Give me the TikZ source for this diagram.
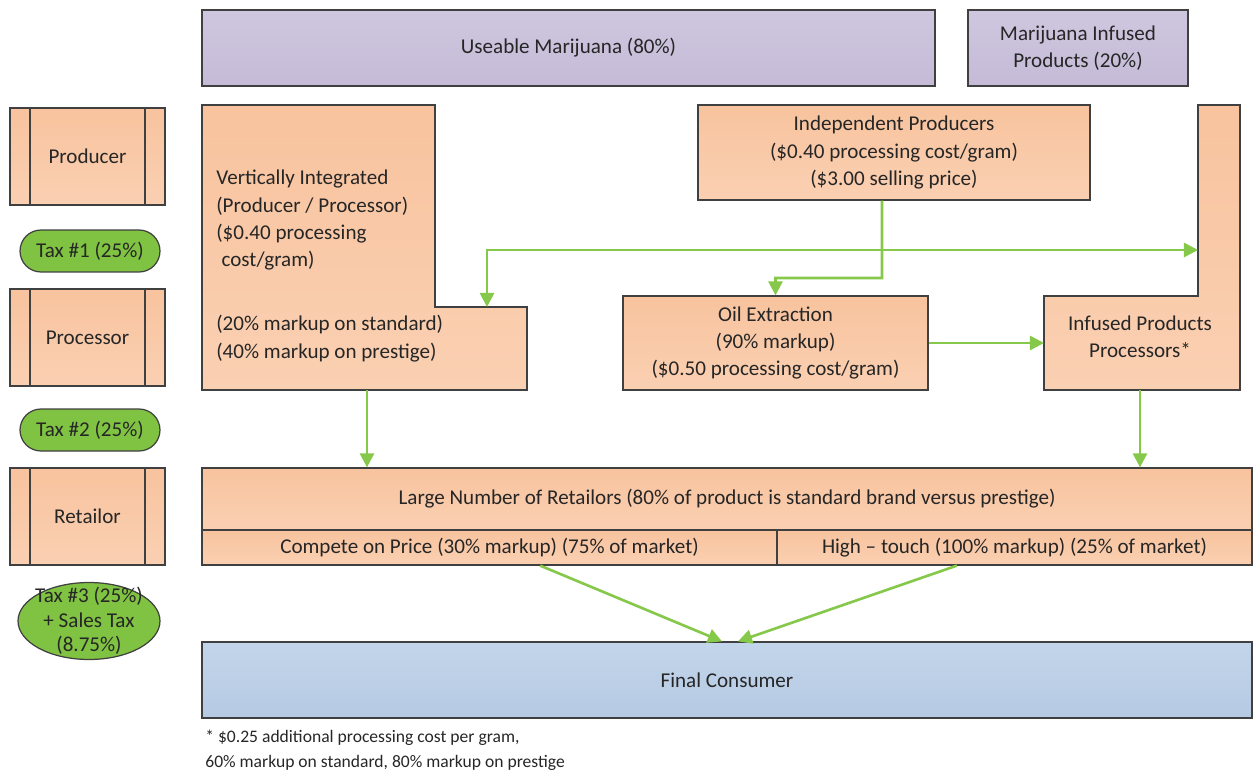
\documentclass[tikz,border=0pt]{standalone}
\usepackage{fontspec}
\setmainfont{Carlito}
\usetikzlibrary{arrows.meta,calc,shapes.geometric}

\definecolor{edge}{HTML}{404040}
\definecolor{ink}{HTML}{262626}
\definecolor{peachtop}{HTML}{F8C39E}
\definecolor{peachbot}{HTML}{FAD0B2}
\definecolor{lilactop}{HTML}{CFC6DF}
\definecolor{lilacbot}{HTML}{C5BBD7}
\definecolor{skytop}{HTML}{C3D5EA}
\definecolor{skybot}{HTML}{B5CAE3}
\definecolor{taxgreen}{HTML}{80C342}
\definecolor{flowgreen}{HTML}{86C84A}

\tikzset{
  lshape/.style={draw=edge, line width=0.7pt, top color=peachtop, bottom color=peachbot},
  box/.style={lshape, align=center, inner sep=0pt},
  topbox/.style={box, top color=lilactop, bottom color=lilacbot},
  finalbox/.style={box, top color=skytop, bottom color=skybot},
  stage/.style={box, minimum width=3.1cm, minimum height=1.94cm,
    path picture={
      \draw[edge, line width=0.7pt] ([xshift=0.4cm]path picture bounding box.north west) -- ([xshift=0.4cm]path picture bounding box.south west);
      \draw[edge, line width=0.7pt] ([xshift=-0.4cm]path picture bounding box.north east) -- ([xshift=-0.4cm]path picture bounding box.south east);
    }},
  tax/.style={draw=edge, line width=0.7pt, fill=taxgreen, align=center, inner sep=0pt,
    minimum width=2.8cm, minimum height=0.84cm, rounded corners=0.42cm},
  flow/.style={draw=flowgreen, line width=1.5pt, -{Triangle[length=8pt,width=8pt]}}
}

\begin{document}
\begin{tikzpicture}[x=0.02cm, y=-0.02cm, font=\fontsize{12}{15.5}\selectfont, text=ink]
\useasboundingbox (0,0) rectangle (1254,774);

% top row
\node[topbox, minimum width=14.66cm, minimum height=1.52cm] (useable) at (568.5,48) {Useable Marijuana (80\%)};
\node[topbox, minimum width=4.4cm, minimum height=1.52cm] (mip) at (1078,48) {Marijuana Infused\\Products (20\%)};

% left column
\node[stage] (producer) at (87.5,156.5) {Producer};
\node[tax] (tax1) at (90,251) {Tax \#1 (25\%)};
\node[stage] (processor) at (87.5,337.5) {Processor};
\node[tax] (tax2) at (90,430) {Tax \#2 (25\%)};
\node[stage] (retailor) at (87.5,516.5) {Retailor};
\node[tax, ellipse, rounded corners=0pt, minimum width=2.84cm, minimum height=1.54cm, inner sep=-12pt, font=\fontsize{12}{14}\selectfont] (tax3) at (89,621) {Tax \#3 (25\%)\\+ Sales Tax\\(8.75\%)};

% vertically integrated
\draw[lshape] (202,105) -- (435,105) -- (435,307) -- (527,307) -- (527,390) -- (202,390) -- cycle;
\node[anchor=north west, align=left, inner sep=0pt] (vi) at (216,170) {Vertically Integrated\\(Producer / Processor)\\(\$0.40 processing\\\hspace{3pt}cost/gram)\\[21pt](20\% markup on standard)\\(40\% markup on prestige)};
\coordinate (vi-step) at (487,307);
\coordinate (vi-s) at (367,390);

% independent producers and oil
\node[box, minimum width=7.84cm, minimum height=1.9cm] (indep) at (894,152.5) {Independent Producers\\(\$0.40 processing cost/gram)\\(\$3.00 selling price)};
\node[box, minimum width=6.1cm, minimum height=1.88cm] (oil) at (775.5,343) {Oil Extraction\\(90\% markup)\\(\$0.50 processing cost/gram)};

% infused products processors
\draw[lshape] (1198,105) -- (1240,105) -- (1240,390) -- (1044,390) -- (1044,296) -- (1198,296) -- cycle;
\node[align=center] (ipp) at (1140,337) {Infused Products\\Processors*};
\coordinate (ipp-w) at (1198,250);
\coordinate (ipp-lw) at (1044,343);
\coordinate (ipp-s) at (1140,390);

% retailers
\node[box, minimum width=21cm, minimum height=1.24cm] (retail) at (727,499) {Large Number of Retailors (80\% of product is standard brand versus prestige)};
\node[box, minimum width=11.5cm, minimum height=0.7cm] (price) at (489.5,547.5) {Compete on Price (30\% markup) (75\% of market)};
\node[box, minimum width=9.5cm, minimum height=0.7cm] (touch) at (1014.5,547.5) {High – touch (100\% markup) (25\% of market)};

% consumer
\node[finalbox, minimum width=21cm, minimum height=1.52cm] (final) at (727,680) {Final Consumer};
\node[anchor=north west, align=left, inner sep=0pt, font=\fontsize{10}{14}\selectfont] (note) at (205,730) {* \$0.25 additional processing cost per gram,\\60\% markup on standard, 80\% markup on prestige};

% flows
\coordinate (ip) at ([xshift=-0.24cm]indep.south);
\coordinate (split) at (ip |- ipp-w);
\coordinate (bend) at (882,278);
\draw[flow] (ip) -- (bend) -| (oil.north);
\draw[flow] (split) -| (vi-step);
\draw[flow] (split) -- (ipp-w);
\draw[flow] (oil.east) -- (oil.east -| ipp-lw);
\draw[flow] (vi-s) -- (vi-s |- retail.north);
\draw[flow] (ipp-s) -- (ipp-s |- retail.north);
\draw[flow] ($(price.south west)!0.588!(price.south east)$) -- ([xshift=-0.1cm]final.north);
\draw[flow] ($(touch.south west)!0.379!(touch.south east)$) -- ([xshift=0.22cm]final.north);
\end{tikzpicture}
\end{document}
